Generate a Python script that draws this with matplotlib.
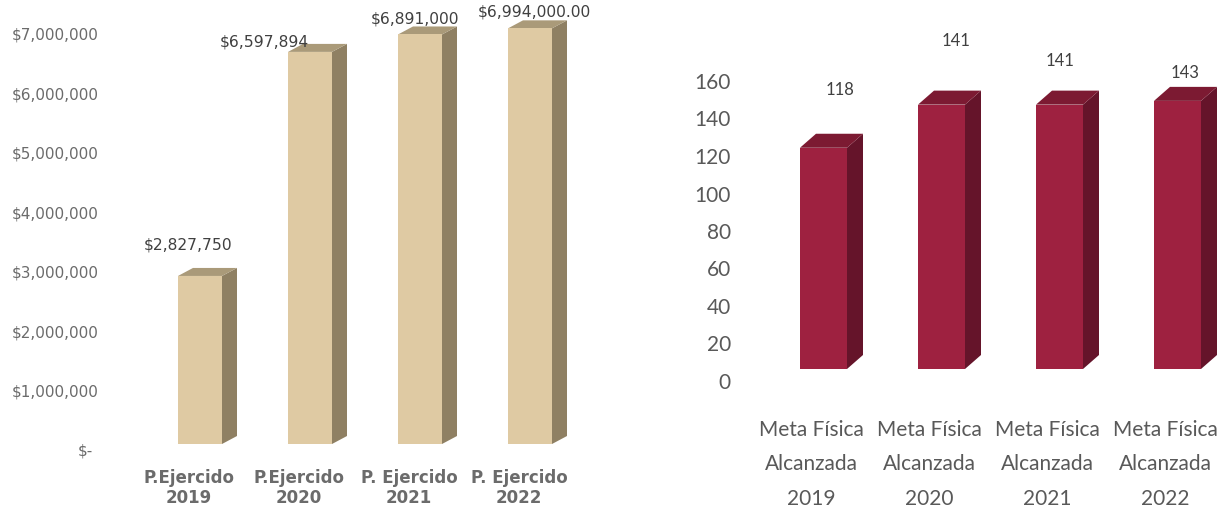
import matplotlib
matplotlib.use("Agg")
import matplotlib.pyplot as plt
from matplotlib.transforms import ScaledTranslation

W, H = 1223, 510

# left chart
ejercido_labels = ["P.Ejercido\n2019", "P.Ejercido\n2020", "P. Ejercido\n2021", "P. Ejercido\n2022"]
ejercido_values = [2827750, 6597894, 6891000, 6994000]
ejercido_text = ["$2,827,750", "$6,597,894", "$6,891,000", "$6,994,000.00"]
ejercido_ticks = [0, 1000000, 2000000, 3000000, 4000000, 5000000, 6000000, 7000000]
ejercido_ticklabels = ["$-", "$1,000,000", "$2,000,000", "$3,000,000", "$4,000,000",
                       "$5,000,000", "$6,000,000", "$7,000,000"]

# right chart
meta_labels = ["Meta Física\nAlcanzada\n2019", "Meta Física\nAlcanzada\n2020",
               "Meta Física\nAlcanzada\n2021", "Meta Física\nAlcanzada\n2022"]
meta_values = [118, 141, 141, 143]
meta_ticks = [0, 20, 40, 60, 80, 100, 120, 140, 160]


def px(points):
    return points * 72 / 100


def make_axes(fig, left, right, base_y, cat0, step, px_per_unit):
    # axes box in image pixels, limits worked out so the bars land on the same pixels
    ax = fig.add_axes([left / W, (H - base_y) / H, (right - left) / W, base_y / H])
    ax.set_xlim((left - cat0) / step, (right - cat0) / step)
    ax.set_ylim(0, base_y / px_per_unit)
    ax.patch.set_alpha(0)
    for s in ax.spines.values():
        s.set_visible(False)
    ax.tick_params(length=0)
    return ax


def bars_3d(ax, values, width, dx, dy, front, side, top):
    for i, v in enumerate(values):
        x0 = i - width / 2
        x1 = i + width / 2
        ax.bar(i, v, width=width, color=front, zorder=3)
        ax.fill([x1, x1 + dx, x1 + dx, x1], [0, dy, v + dy, v], color=side, lw=0, zorder=2, clip_on=False)
        ax.fill([x0, x0 + dx, x1 + dx, x1], [v, v + dy, v + dy, v], color=top, lw=0, zorder=2, clip_on=False)


def shift_labels(labels, fig, x_px, y_px):
    off = ScaledTranslation(px(x_px) / 72, px(y_px) / 72, fig.dpi_scale_trans)
    for lab in labels:
        lab.set_transform(lab.get_transform() + off)


fig = plt.figure(figsize=(W / 100, H / 100), dpi=100)

# ---- left chart
scale_l = 416 / 7000000
ax1 = make_axes(fig, 100, 600, 445, 200, 110, scale_l)
bars_3d(ax1, ejercido_values, 44 / 110, 15 / 110, 8 / scale_l, "#DFCAA3", "#8F8063", "#AA9A79")
ax1.set_yticks(ejercido_ticks)
ax1.set_yticklabels(ejercido_ticklabels, fontsize=11, color="#6b6b6b", family="DejaVu Sans")
ax1.tick_params(axis="y", pad=1)
shift_labels(ax1.get_yticklabels(), fig, 0, -5)
shift_labels(ax1.get_yticklabels()[:1], fig, -6, 0)
ax1.set_xticks(range(4))
ax1.set_xticklabels(ejercido_labels, fontsize=12, color="#6b6b6b", family="DejaVu Sans",
                    weight="bold", linespacing=1.2)
ax1.tick_params(axis="x", pad=17)
shift_labels(ax1.get_xticklabels(), fig, -11, 0)

label_off_1 = [(-12, 32), (-46, 11), (-5, 16), (4, 17)]
for i, v in enumerate(ejercido_values):
    ax1.annotate(ejercido_text[i], (i, v), xytext=(px(label_off_1[i][0]), px(label_off_1[i][1])),
                 textcoords="offset points", ha="center", va="center", fontsize=11.2,
                 color="#404040", zorder=5, annotation_clip=False)

# ---- right chart
scale_r = 300 / 160
ax2 = make_axes(fig, 735, 1223, 370, 823.5, 118, scale_r)
bars_3d(ax2, meta_values, 47 / 118, 16 / 118, 14 / scale_r, "#9E2140", "#65142A", "#7C1A32")
ax2.set_yticks(meta_ticks)
ax2.set_yticklabels(meta_ticks, fontsize=15, color="#595959", family="Lato")
ax2.tick_params(axis="y", pad=3)
shift_labels(ax2.get_yticklabels(), fig, 0, -11)
ax2.set_xticks(range(4))
ax2.set_xticklabels(meta_labels, fontsize=15, color="#595959", family="Lato", linespacing=1.9)
ax2.tick_params(axis="x", pad=36)
shift_labels(ax2.get_xticklabels(), fig, -12, 0)

label_off_2 = [(17, 59), (15, 65), (1, 45), (8, 29)]
for i, v in enumerate(meta_values):
    ax2.annotate(str(v), (i, v), xytext=(px(label_off_2[i][0]), px(label_off_2[i][1])),
                 textcoords="offset points", ha="center", va="center", fontsize=12,
                 color="#404040", family="Lato", zorder=5, annotation_clip=False)

fig.savefig("out.png", dpi=100)
